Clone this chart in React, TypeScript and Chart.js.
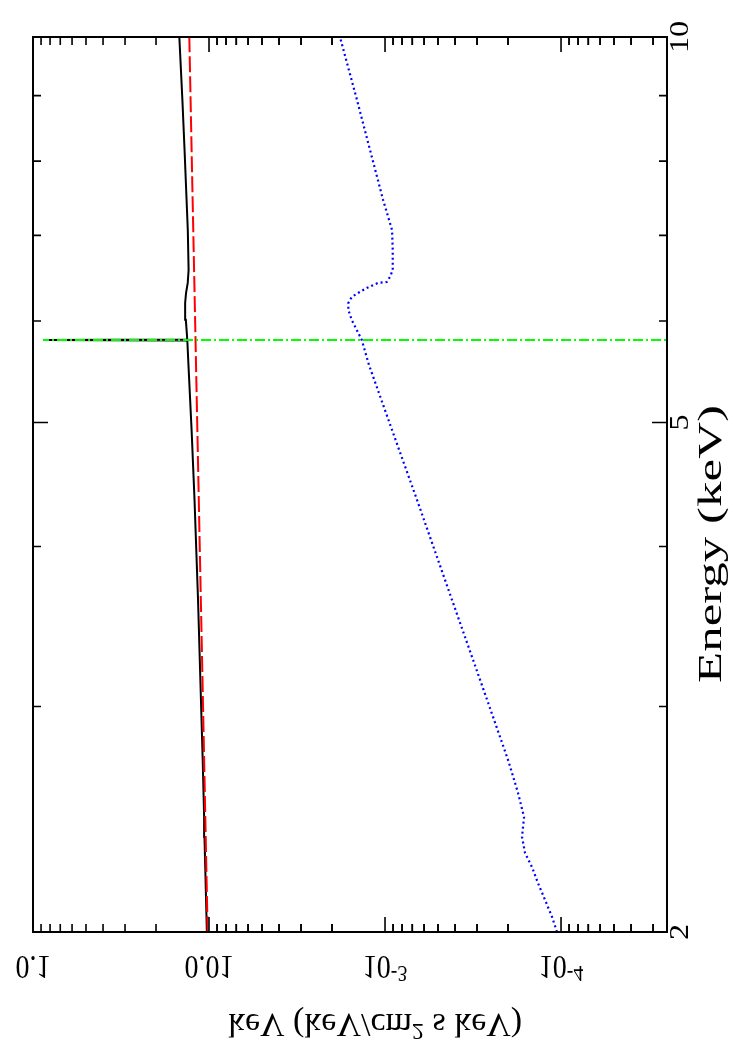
import React, { useEffect, useRef } from "react";
import { Chart, registerables } from "chart.js";
Chart.register(...registerables);

// ---- axis ticks / labels ----
const energyMajorTicks = [2, 5, 10];
const energyTickLabels = ["2", "5", "10"];
const energyMinorTicks = [3, 4, 6, 7, 8, 9];
const fluxMajorTicks = [0.1, 0.01, 1e-3, 1e-4];
const fluxTickBase = ["0.1", "0.01", "10", "10"];
const fluxTickExp = ["", "", "-3", "-4"];
const fluxMinorMultipliers = [2, 3, 4, 5, 6, 7, 8, 9];
const energyTitle = "Energy (keV)";
const fluxTitleParts: [string, boolean][] = [["keV (keV/cm", false], ["2", true], [" s keV)", false]];

// ---- series (energy in keV, flux in keV/cm^2 s keV) ----
const totalEnergy = [2.0, 2.248, 2.373, 2.459, 2.725, 3.633, 4.35, 4.932, 5.544, 5.795, 5.8, 5.805, 6.013, 6.199, 6.311, 6.426, 6.577, 7.067, 8.162, 8.93, 10.0];
const totalFlux = [0.010285, 0.010505, 0.01061, 0.01066, 0.01086, 0.011543, 0.012087, 0.012558, 0.013084, 0.01328, 0.0877, 0.01329, 0.01354, 0.013665, 0.013504, 0.01321, 0.01306, 0.013198, 0.01377, 0.014165, 0.014743];

const powerEnergy = [2, 3, 4, 5, 6, 7, 8, 9, 10];
const powerFlux = [0.01018, 0.01081, 0.01129, 0.01167, 0.01199, 0.01227, 0.01252, 0.01274, 0.01294];

const reflEnergy = [2.0, 2.055, 2.119, 2.184, 2.248, 2.306, 2.373, 2.459, 2.568, 2.662, 2.725, 3.036, 3.633, 4.35, 4.932, 5.544, 5.8, 6.013, 6.122, 6.199, 6.266, 6.311, 6.368, 6.426, 6.437, 6.496, 6.577, 6.818, 7.067, 7.462, 8.162, 8.93, 10.0];
const reflFlux = [1.054e-4, 1.125e-4, 1.233e-4, 1.352e-4, 1.462e-4, 1.602e-4, 1.666e-4, 1.622e-4, 1.755e-4, 1.898e-4, 2.0e-4, 2.63e-4, 4.16e-4, 6.58e-4, 9.12e-4, 1.233e-3, 1.356e-3, 1.546e-3, 1.616e-3, 1.616e-3, 1.546e-3, 1.423e-3, 1.271e-3, 1.096e-3, 9.78e-4, 9.37e-4, 9.04e-4, 9.04e-4, 9.12e-4, 1.026e-3, 1.217e-3, 1.443e-3, 1.803e-3];

const lineEnergy = [5.8, 5.8];
const lineFlux = [1e-6, 0.0877];

const FONT = '"Liberation Serif", "DejaVu Serif", serif';

function pts(e: number[], f: number[]) {
  return e.map((v, i) => ({ x: f[i], y: v }));
}

function partsWidth(ctx: CanvasRenderingContext2D, parts: [string, boolean][], size: number) {
  return parts.map(([t, sup]) => {
    ctx.font = `${sup ? size * 0.7 : size}px ${FONT}`;
    return ctx.measureText(t).width;
  });
}

function drawParts(ctx: CanvasRenderingContext2D, parts: [string, boolean][], size: number) {
  const widths = partsWidth(ctx, parts, size);
  const total = widths.reduce((a, b) => a + b, 0);
  let x = -total / 2;
  ctx.textAlign = "left";
  ctx.textBaseline = "alphabetic";
  parts.forEach(([t, sup], i) => {
    ctx.font = `${sup ? size * 0.7 : size}px ${FONT}`;
    ctx.fillText(t, x, sup ? -size * 0.3 : 0);
    x += widths[i];
  });
}

const framePlugin = {
  id: "gnuframe",
  afterDatasetsDraw(chart: any) {
    const ctx: CanvasRenderingContext2D = chart.ctx;
    const { left, right, top, bottom } = chart.chartArea;
    const xs = chart.scales.x;
    const ys = chart.scales.y;
    ctx.save();
    ctx.strokeStyle = "#000";
    ctx.fillStyle = "#000";
    ctx.lineWidth = 2;
    ctx.strokeRect(left, top, right - left, bottom - top);
    ctx.lineWidth = 1.6;
    const majorLen = 15;
    const minorLen = 8;
    const drawFluxTick = (v: number, len: number) => {
      const px = xs.getPixelForValue(v);
      if (px < left - 0.5 || px > right + 0.5) return;
      ctx.beginPath();
      ctx.moveTo(px, bottom);
      ctx.lineTo(px, bottom - len);
      ctx.moveTo(px, top);
      ctx.lineTo(px, top + len);
      ctx.stroke();
    };
    fluxMajorTicks.forEach((v) => {
      drawFluxTick(v, majorLen);
      fluxMinorMultipliers.forEach((m) => drawFluxTick(v * m * 0.1, minorLen));
      fluxMinorMultipliers.forEach((m) => drawFluxTick(v * m * 0.01, minorLen));
    });
    const drawEnergyTick = (v: number, len: number) => {
      const py = ys.getPixelForValue(v);
      ctx.beginPath();
      ctx.moveTo(left, py);
      ctx.lineTo(left + len, py);
      ctx.moveTo(right, py);
      ctx.lineTo(right - len, py);
      ctx.stroke();
    };
    energyMajorTicks.forEach((v) => drawEnergyTick(v, majorLen));
    energyMinorTicks.forEach((v) => drawEnergyTick(v, minorLen));

    // energy tick labels (rotated, reading bottom to top)
    energyMajorTicks.forEach((v, i) => {
      const py = ys.getPixelForValue(v);
      ctx.save();
      ctx.translate(right + 21, py);
      ctx.rotate(-Math.PI / 2);
      ctx.scale(1.15, 1);
      drawParts(ctx, [[energyTickLabels[i], false]], 28);
      ctx.restore();
    });
    // energy title (stretched along its length)
    {
      const size = 33;
      const w = partsWidth(ctx, [[energyTitle, false]], size)[0];
      const stretch = 278 / w;
      ctx.save();
      ctx.translate(right + 54, 544);
      ctx.rotate(-Math.PI / 2);
      ctx.scale(stretch, 1);
      drawParts(ctx, [[energyTitle, false]], size);
      ctx.restore();
    }

    // flux tick labels (mirrored vertically)
    fluxMajorTicks.forEach((v, i) => {
      const px = xs.getPixelForValue(v);
      ctx.save();
      ctx.translate(px, bottom + 24);
      ctx.scale(1, -1.2);
      const parts: [string, boolean][] = [[fluxTickBase[i], false]];
      if (fluxTickExp[i]) parts.push([fluxTickExp[i], true]);
      drawParts(ctx, parts, 28);
      ctx.restore();
    });
    // flux title
    ctx.save();
    ctx.translate(375, bottom + 82);
    ctx.scale(1, -1);
    drawParts(ctx, fluxTitleParts, 34);
    ctx.restore();
    ctx.restore();
  },
};

export default function App() {
  const ref = useRef<HTMLCanvasElement | null>(null);
  useEffect(() => {
    if (!ref.current) return;
    const base = { showLine: true, pointRadius: 0, fill: false, tension: 0 };
    const chart = new Chart(ref.current, {
      type: "scatter",
      data: {
        datasets: [
          { ...base, label: "line", data: pts(lineEnergy, lineFlux), borderColor: "#00ff00", borderWidth: 2, borderDash: [10, 3, 2, 3], order: 0 },
          { ...base, label: "powerlaw", data: pts(powerEnergy, powerFlux), borderColor: "#ff0000", borderWidth: 2, borderDash: [16, 4], order: 1 },
          { ...base, label: "total", data: pts(totalEnergy, totalFlux), borderColor: "#000000", borderWidth: 2, order: 2 },
          { ...base, label: "reflection", data: pts(reflEnergy, reflFlux), borderColor: "#0000ff", borderWidth: 2.2, borderDash: [2, 3], order: 3 },
        ] as any,
      },
      options: {
        animation: false,
        responsive: false,
        maintainAspectRatio: false,
        layout: { padding: { left: 33, top: 37, right: 65, bottom: 113 } },
        plugins: { legend: { display: false }, tooltip: { enabled: false } },
        scales: {
          x: { type: "logarithmic", reverse: true, min: 2.5e-5, max: 0.1, display: false },
          y: { type: "logarithmic", min: 2, max: 10, display: false },
        },
      } as any,
      plugins: [framePlugin],
    });
    return () => chart.destroy();
  }, []);
  return (
    <div style={{ position: "fixed", left: 0, top: 0, width: 732, height: 1045, background: "#fff" }}>
      <canvas ref={ref} width={732} height={1045} style={{ display: "block", width: 732, height: 1045 }} />
    </div>
  );
}
